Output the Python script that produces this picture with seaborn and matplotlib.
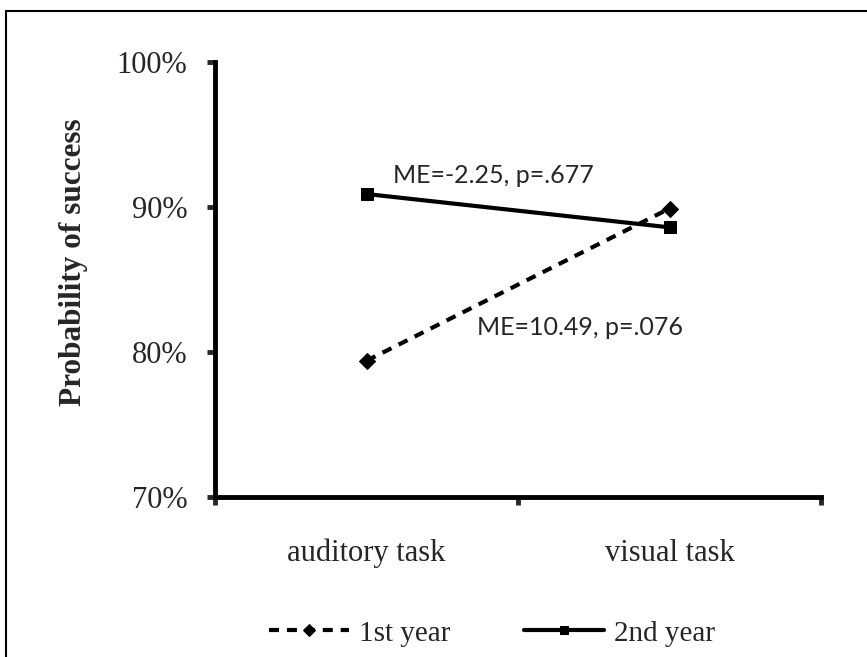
import pandas as pd
import seaborn as sns
import matplotlib.pyplot as plt
from matplotlib.lines import Line2D
from matplotlib.ticker import PercentFormatter, FixedLocator

sns.set_style("white")
plt.rcParams['font.family'] = ['Liberation Serif', 'DejaVu Serif']

# Données
tasks = ["auditory task", "visual task"]
years = ["1st year", "2nd year"]
first_year = [0.794, 0.899]
second_year = [0.909, 0.886]
notes = ["ME=-2.25, p=.677", "ME=10.49, p=.076"]

df = pd.DataFrame({
    "task": tasks * 2,
    "year": [years[0]] * 2 + [years[1]] * 2,
    "prob": first_year + second_year,
})

fig = plt.figure(figsize=(8.67, 6.57), dpi=100)
ax = fig.add_axes([0.248, 0.2435, 0.699, 0.662])

sns.lineplot(data=df, x="task", y="prob", style="year", color="black",
             markers={"1st year": "D", "2nd year": "s"},
             dashes={"1st year": (2.4, 1.9), "2nd year": ""},
             linewidth=3, markersize=8, markeredgecolor="black",
             legend=True, ax=ax)

ax.set_ylim(0.70, 1.00)
ax.set_xlim(-0.5, 1.5)
ax.yaxis.set_major_locator(FixedLocator([0.7, 0.8, 0.9, 1.0]))
ax.yaxis.set_major_formatter(PercentFormatter(1.0, decimals=0))

# graduations entre les catégories, étiquettes au centre
ax.xaxis.set_major_locator(FixedLocator([-0.5, 0.5, 1.5]))
ax.set_xticklabels(["", "", ""])
ax.xaxis.set_minor_locator(FixedLocator([0, 1]))
ax.set_xticklabels(tasks, minor=True)
ax.tick_params(axis="x", which="major", direction="out", length=6, width=3.5, bottom=True)
ax.tick_params(axis="x", which="minor", length=0, pad=30, labelsize=22)
ax.tick_params(axis="y", direction="out", length=6, width=3.5, left=True, pad=14, labelsize=22)

for s in ["top", "right"]:
    ax.spines[s].set_visible(False)
for s in ["left", "bottom"]:
    ax.spines[s].set_linewidth(3.5)
    ax.spines[s].set_color("black")

ax.set_xlabel("")
ax.set_ylabel("Probability of success", fontsize=22.5, fontweight="bold")
ax.yaxis.set_label_coords(-0.21, 0.54)

ax.text(0.087, 0.922, notes[0], fontsize=18, family=["Lato", "DejaVu Sans"], va="center")
ax.text(0.365, 0.817, notes[1], fontsize=18, family=["Lato", "DejaVu Sans"], va="center")

handles, labels = ax.get_legend_handles_labels()
ax.legend_.remove()
fig.legend(handles, labels, loc="center", bbox_to_anchor=(0.5675, 0.036), ncol=2,
           frameon=False, fontsize=21, handlelength=2.74, columnspacing=2.5,
           handletextpad=0.35, markerscale=0.8)

# cadre de la figure
fig.add_artist(Line2D([6 / 867, 6 / 867], [0, 1 - 11 / 657], color="black", lw=1.5,
                      transform=fig.transFigure))
fig.add_artist(Line2D([6 / 867, 1], [1 - 11 / 657, 1 - 11 / 657], color="black", lw=1.5,
                      transform=fig.transFigure))

fig.savefig("out.png", dpi=100)
